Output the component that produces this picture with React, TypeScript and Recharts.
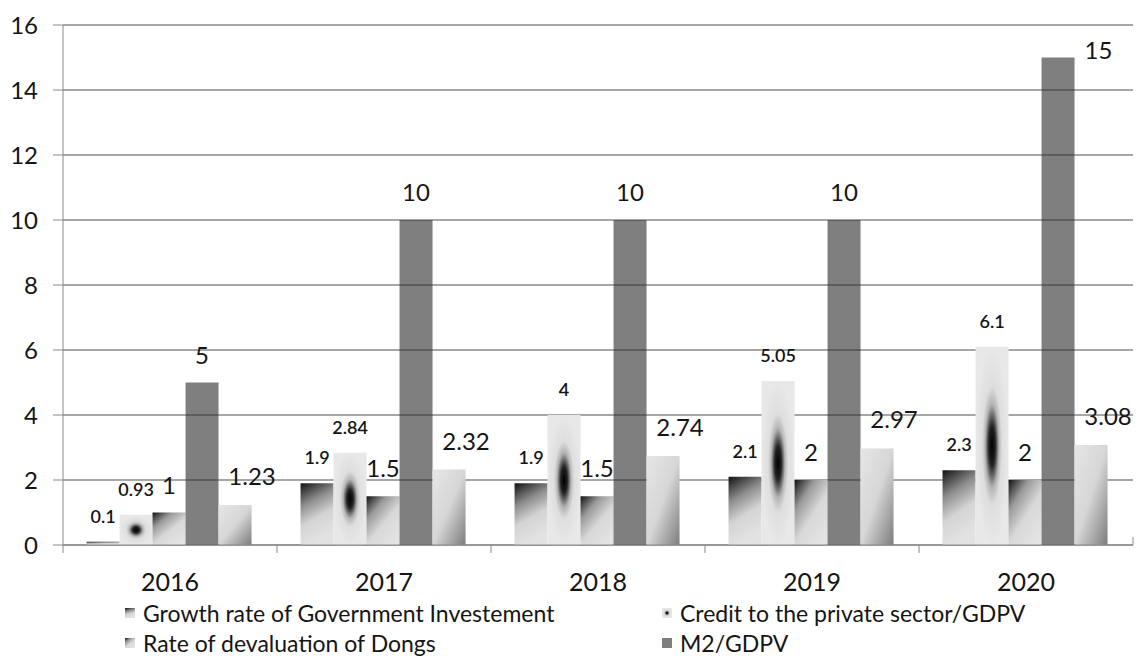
import React from 'react';
import { BarChart, Bar, XAxis, YAxis, CartesianGrid, LabelList } from 'recharts';

// values
const years = ['2016', '2017', '2018', '2019', '2020'];
const growthRate = [0.1, 1.9, 1.9, 2.1, 2.3];
const creditPrivate = [0.93, 2.84, 4, 5.05, 6.1];
const devaluation = [1, 1.5, 1.5, 2, 2];
const m2Gdpv = [5, 10, 10, 10, 15];
const lastSeries = [1.23, 2.32, 2.74, 2.97, 3.08]; // its legend entry is cut off in the picture
const yTicks = [0, 2, 4, 6, 8, 10, 12, 14, 16];

const legendRows = [
  [
    { name: 'Growth rate of Government Investement', fill: 'url(#gGrowth)' },
    { name: 'Credit to the private sector/GDPV', fill: 'url(#gCredit)' },
  ],
  [
    { name: 'Rate of devaluation of Dongs', fill: 'url(#gDeval)' },
    { name: 'M2/GDPV', fill: '#7f7f7f' },
  ],
];

const data = years.map((year, i) => ({
  year,
  growth: growthRate[i],
  credit: creditPrivate[i],
  deval: devaluation[i],
  m2: m2Gdpv[i],
  last: lastSeries[i],
}));

const W = 1139;
const H = 656;
const FONT = 'Lato, "Open Sans", sans-serif';
const PLOT_LEFT = 63;
const PLOT_RIGHT = 1133;
const PLOT_TOP = 25;
const PLOT_BOTTOM = 545;
const X_AXIS_H = 60;
const BAND = (PLOT_RIGHT - PLOT_LEFT) / years.length;
const TEXT = '#151515';
const GRID = '#8a8a8a';

const smallLabel = (props: any) => {
  const { x, y, width, value } = props;
  return (
    <text x={x + width / 2} y={y - 19} textAnchor="middle" fontFamily={FONT} fontSize={18} fontWeight={600} fill={TEXT}>
      {value}
    </text>
  );
};

const bigLabel = (props: any) => {
  const { x, y, width, value } = props;
  // the tallest bar has its label moved to the right of the bar top
  if (y - 28 < PLOT_TOP + 15) {
    return (
      <text x={x + width + 10} y={y + 1} textAnchor="start" fontFamily={FONT} fontSize={24} fill={TEXT}>
        {value}
      </text>
    );
  }
  return (
    <text x={x + width / 2} y={y - 19} textAnchor="middle" fontFamily={FONT} fontSize={24} fill={TEXT}>
      {value}
    </text>
  );
};

const shiftedLabel = (props: any) => {
  const { x, y, width, value } = props;
  return (
    <text x={x + width / 2 + 17} y={y - 20} textAnchor="middle" fontFamily={FONT} fontSize={24} fill={TEXT}>
      {value}
    </text>
  );
};

const YearTick = (props: any) => {
  const { x, y, payload, index } = props;
  const isLast = index === years.length - 1;
  return (
    <g>
      <line x1={x - BAND / 2} y1={y} x2={x - BAND / 2} y2={y + 8} stroke={GRID} />
      {isLast && <line x1={x + BAND / 2} y1={y - 8} x2={x + BAND / 2} y2={y} stroke={GRID} />}
      <text x={x} y={y + 46} textAnchor="middle" fontFamily={FONT} fontSize={25} fill={TEXT}>
        {payload.value}
      </text>
    </g>
  );
};

export default function App() {
  return (
    <div style={{ position: 'absolute', left: 0, top: 0, width: W, height: H, background: '#fff', overflow: 'hidden' }}>
      <BarChart
        width={W}
        height={H}
        data={data}
        margin={{ top: PLOT_TOP, right: W - PLOT_RIGHT, left: 0, bottom: H - PLOT_BOTTOM - X_AXIS_H }}
        barCategoryGap="11%"
        barGap={0}
      >
        <defs>
          <linearGradient id="gGrowth" x1="0" y1="0" x2="0.3" y2="1">
            <stop offset="0" stopColor="#111" />
            <stop offset="0.35" stopColor="#8c8c8c" />
            <stop offset="0.65" stopColor="#d4d4d4" />
            <stop offset="1" stopColor="#e2e2e2" />
          </linearGradient>
          <radialGradient id="gCredit" cx="0.5" cy="0.5" r="0.5">
            <stop offset="0" stopColor="#000" />
            <stop offset="0.2" stopColor="#222" />
            <stop offset="0.42" stopColor="#b4b4b4" />
            <stop offset="0.6" stopColor="#dedede" />
            <stop offset="1" stopColor="#e8e8e8" />
          </radialGradient>
          <linearGradient id="gDeval" x1="0" y1="0" x2="0.8" y2="1">
            <stop offset="0" stopColor="#111" />
            <stop offset="0.3" stopColor="#9a9a9a" />
            <stop offset="0.6" stopColor="#d8d8d8" />
            <stop offset="1" stopColor="#e4e4e4" />
          </linearGradient>
          <linearGradient id="gLast" x1="0" y1="0" x2="1" y2="1">
            <stop offset="0" stopColor="#e6e6e6" />
            <stop offset="0.5" stopColor="#d6d6d6" />
            <stop offset="1" stopColor="#7c7c7c" />
          </linearGradient>
        </defs>
        <CartesianGrid vertical={false} stroke={GRID} strokeWidth={1.5} />
        <XAxis
          dataKey="year"
          height={X_AXIS_H}
          stroke={GRID}
          tickLine={false}
          tickSize={0}
          tickMargin={0}
          interval={0}
          tick={<YearTick />}
        />
        <YAxis
          width={PLOT_LEFT}
          domain={[0, 16]}
          ticks={yTicks}
          stroke={GRID}
          tickSize={10}
          tickMargin={15}
          tick={{ fontFamily: FONT, fontSize: 24, fill: TEXT }}
        />
        <Bar dataKey="growth" fill="url(#gGrowth)" isAnimationActive={false}>
          <LabelList dataKey="growth" content={smallLabel} />
        </Bar>
        <Bar dataKey="credit" fill="url(#gCredit)" isAnimationActive={false}>
          <LabelList dataKey="credit" content={smallLabel} />
        </Bar>
        <Bar dataKey="deval" fill="url(#gDeval)" isAnimationActive={false}>
          <LabelList dataKey="deval" content={bigLabel} />
        </Bar>
        <Bar dataKey="m2" fill="#2a2a2a" fillOpacity={0.6} isAnimationActive={false}>
          <LabelList dataKey="m2" content={bigLabel} />
        </Bar>
        <Bar dataKey="last" fill="url(#gLast)" isAnimationActive={false}>
          <LabelList dataKey="last" content={shiftedLabel} />
        </Bar>
      </BarChart>
      {legendRows.map((row, r) =>
        row.map((item, c) => (
          <div
            key={item.name}
            style={{
              position: 'absolute',
              left: c === 0 ? 125 : 662,
              top: 599 + r * 30,
              height: 28,
              display: 'flex',
              alignItems: 'center',
              fontFamily: FONT,
              fontSize: 23,
              lineHeight: '28px',
              color: TEXT,
              whiteSpace: 'nowrap',
            }}
          >
            <svg width={10} height={10} style={{ marginRight: 8 }}>
              <rect x={0} y={0} width={10} height={10} fill={item.fill} />
            </svg>
            {item.name}
          </div>
        ))
      )}
    </div>
  );
}
